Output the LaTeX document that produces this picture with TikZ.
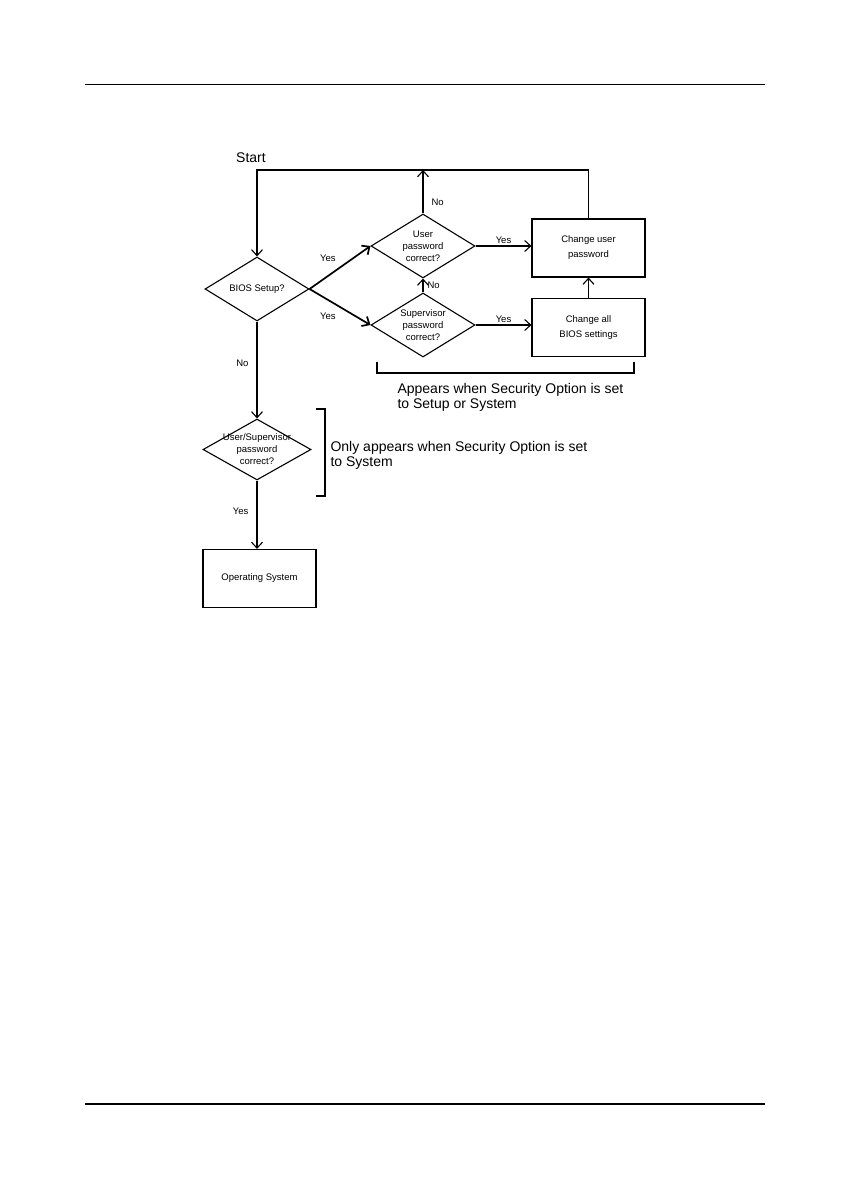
\documentclass[tikz,border=0pt]{standalone}
\usepackage{fontspec}
\setmainfont{Liberation Sans}
\usetikzlibrary{positioning,arrows.meta,shapes.geometric}

\begin{document}
\begin{tikzpicture}[
    x=1pt, y=-1pt,
    line width=1.1pt,
    font={\fontsize{9.5}{12}\selectfont},
    arr/.style={-{Straight Barb[length=6pt,width=11pt]}},
    lbl/.style={font={\fontsize{9.5}{12}\selectfont},inner sep=2pt},
    big/.style={font={\fontsize{14}{15}\selectfont},inner sep=0pt,align=left},
    test/.style={diamond,draw,aspect=1.65,minimum width=104pt,minimum height=64pt,inner sep=0pt,align=center},
    action/.style={rectangle,draw,minimum width=113pt,minimum height=58pt,inner sep=0pt,align=center,font={\fontsize{9.5}{15}\selectfont}},
]
    \useasboundingbox (0,0) rectangle (850,1190);
    \fill[white] (0,0) rectangle (850,1190);

    % page rules
    \draw[line width=0.8pt] (85,84) -- (765,84);
    \draw[line width=2.2pt] (85,1104) -- (765,1104);

    \node[big] (start) at (251,158) {Start};

    \node[test]                     (biossetup)  at (257,289) {BIOS Setup?};
    \node[test]                     (userpass)   at (423,246) {User\\password\\correct?};
    \node[test]                     (superpass)  at (423,325) {Supervisor\\password\\correct?};
    \node[action]                   (changeuser) at (588.5,248) {Change user\\password};
    \node[action]                   (changeall)  at (588.5,327.5) {Change all\\BIOS settings};
    \node[test,inner xsep=-8pt,inner ysep=-6pt,minimum width=108pt,minimum height=61pt] (anypass) at (257,449.5) {User/Supervisor\\password\\correct?};
    \node[action]                   (opsys)      at (259.5,578.5) {Operating System};

    \coordinate (loopleft) at (257,170);

    \draw[arr] (changeuser.north) |- (loopleft) -- (biossetup.north);
    \draw[arr] (userpass.north) -- (userpass.north |- loopleft) node[lbl,pos=0.25,right=6pt] {No};

    \draw[arr,line width=1.7pt] (biossetup.east) -- (userpass.west) node[lbl,pos=0.3,above=12pt] {Yes};
    \draw[arr,line width=1.7pt] (biossetup.east) -- (superpass.west) node[lbl,pos=0.3,below=10pt] {Yes};

    \draw[arr] (userpass.east) -- (userpass.east -| changeuser.west) node[lbl,midway,above] {Yes};
    \draw[arr] (superpass.east) -- (superpass.east -| changeall.west) node[lbl,midway,above] {Yes};
    \draw[arr] (superpass.north) -- (userpass.south) node[lbl,midway,right=2pt] {No};
    \draw[arr] (changeall.north) -- (changeuser.south);

    \draw[arr] (biossetup.south) -- (anypass.north) node[lbl,pos=0.43,left=6pt] {No};
    \draw[arr] (anypass.south) -- (anypass.south |- opsys.north) node[lbl,pos=0.45,left=6pt] {Yes};

    % brackets
    \draw (377,362) |- (634,373) -- (634,362);
    \node[big,anchor=north west] (setupnote) at (397,383) {Appears when Security Option is set\\to Setup or System};

    \draw (316,409) -| (325,496) -- (316,496);
    \node[big,anchor=north west] (systemnote) at (330,441) {Only appears when Security Option is set\\to System};

\end{tikzpicture}
\end{document}
